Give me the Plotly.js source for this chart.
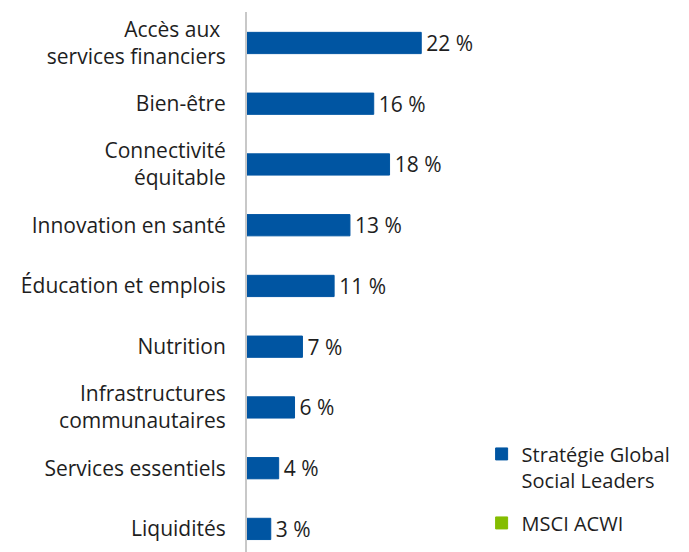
<!DOCTYPE html>
<html>
<head>
<meta charset="utf-8">
<script src="https://cdn.plot.ly/plotly-3.0.1.min.js"></script>
<style>html,body{margin:0;padding:0;background:#fff;}#chart{width:689px;height:552px;}</style>
</head>
<body>
<div id="chart"></div>
<script>
const categories = [
  "Accès aux <br>services financiers",
  "Bien-être",
  "Connectivité<br>équitable",
  "Innovation en santé",
  "Éducation et emplois",
  "Nutrition",
  "Infrastructures<br>communautaires",
  "Services essentiels",
  "Liquidités"
];
const strategyValues = [22, 16, 18, 13, 11, 7, 6, 4, 3];
const msciValues = [null, null, null, null, null, null, null, null, null];
const seriesNames = ["Stratégie Global<br>Social Leaders", "MSCI ACWI"];

const FONT = "Open Sans";
const TXT = "#1e1e1e";
const FS = 21;

const traces = [
  {
    type: "bar", orientation: "h",
    y: categories, x: strategyValues,
    name: seriesNames[0], legendgroup: "a",
    marker: {color: "#0055a2", line: {color: "#0055a2", width: 1}},
    texttemplate: "\u200A%{x} %",
    textposition: "outside", cliponaxis: false, constraintext: "none",
    textfont: {family: FONT, size: FS, color: TXT},
    hoverinfo: "none"
  },
  {
    type: "bar", orientation: "h",
    y: categories, x: msciValues,
    name: seriesNames[1], legendgroup: "b",
    marker: {color: "#84bd00", line: {color: "#84bd00", width: 1}},
    hoverinfo: "none"
  }
];

const layout = {
  width: 689, height: 552,
  margin: {l: 247, r: 244, t: 12, b: 0},
  paper_bgcolor: "#fff", plot_bgcolor: "#fff",
  font: {family: FONT, size: FS, color: TXT},
  barmode: "overlay",
  bargap: 0.65,
  showlegend: true,
  legend: {
    xref: "container", yref: "container",
    x: 0.699, y: 0.213, xanchor: "left", yanchor: "top",
    traceorder: "grouped", tracegroupgap: 14, valign: "top",
    font: {family: FONT, size: 20, color: TXT},
    bgcolor: "rgba(0,0,0,0)"
  },
  xaxis: {range: [0, 25], visible: false, fixedrange: true},
  yaxis: {
    type: "category",
    range: [8.38, -0.51],
    showline: true, linecolor: "#c8c8c8", linewidth: 2,
    showgrid: false, zeroline: false, ticks: "",
    ticklabelstandoff: 15,
    tickfont: {family: FONT, size: FS, color: TXT},
    fixedrange: true
  }
};

Plotly.newPlot("chart", traces, layout, {displayModeBar: false, staticPlot: true});
</script>
</body>
</html>
